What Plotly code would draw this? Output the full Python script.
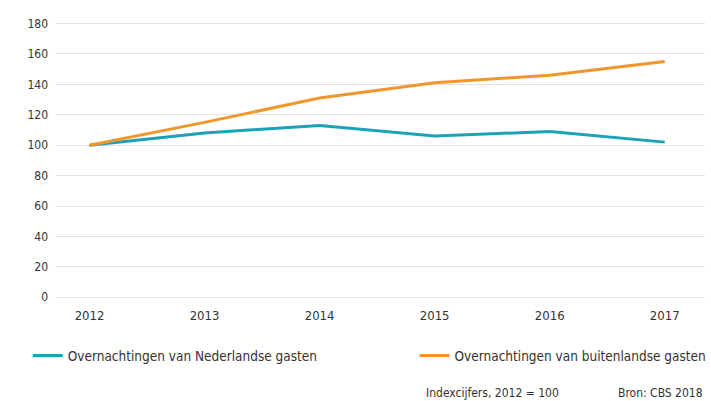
import plotly.graph_objects as go

years = ["2012", "2013", "2014", "2015", "2016", "2017"]
nederlandse = [100, 108, 113, 106, 109, 102]
buitenlandse = [100, 115, 131, 141, 146, 155]
y_ticks = [0, 20, 40, 60, 80, 100, 120, 140, 160, 180]

FONT = "DejaVu Sans Condensed, Roboto Condensed, Liberation Sans Narrow, Roboto, sans-serif"

fig = go.Figure()
fig.add_trace(go.Scatter(x=years, y=nederlandse, mode="lines",
                         name="Overnachtingen van Nederlandse gasten",
                         line=dict(color="#1aa3b8", width=3), legend="legend"))
fig.add_trace(go.Scatter(x=years, y=buitenlandse, mode="lines",
                         name="Overnachtingen van buitenlandse gasten",
                         line=dict(color="#f0962a", width=3), legend="legend2"))

leg_common = dict(orientation="h", yanchor="middle", xanchor="left",
                  xref="container", yref="container",
                  font=dict(size=13.5, color="#333333"), bgcolor="rgba(0,0,0,0)")

fig.update_layout(
    width=711, height=401,
    margin=dict(l=55, r=6, t=22, b=103),
    paper_bgcolor="white", plot_bgcolor="white",
    font=dict(family=FONT, color="#333333", size=12),
    showlegend=True,
    legend=dict(x=0.039, y=0.113, **leg_common),
    legend2=dict(x=0.583, y=0.113, **leg_common),
    xaxis=dict(type="category", range=[-0.3, 5.35], showgrid=False, zeroline=False,
               showline=False, ticks="", ticklabelstandoff=8,
               tickfont=dict(size=13, color="#333333")),
    yaxis=dict(range=[-0.5, 181], tickvals=y_ticks, showgrid=True, gridcolor="#e2e2e2",
               gridwidth=1, zeroline=True, zerolinecolor="#e2e2e2", zerolinewidth=1,
               showline=False, ticks="",
               ticklabelstandoff=6, tickfont=dict(size=12, color="#333333")),
    annotations=[
        dict(text="Indexcijfers, 2012 = 100", xref="paper", yref="paper",
             x=0.567, y=-0.344, xanchor="left", yanchor="middle", showarrow=False,
             font=dict(size=12, color="#333333")),
        dict(text="Bron: CBS 2018", xref="paper", yref="paper",
             x=1.0, y=-0.344, xanchor="right", yanchor="middle", showarrow=False,
             font=dict(size=12, color="#333333")),
    ],
)

fig.write_html("out.html", config={"displayModeBar": False},
               post_script="document.body.style.margin='0';")
